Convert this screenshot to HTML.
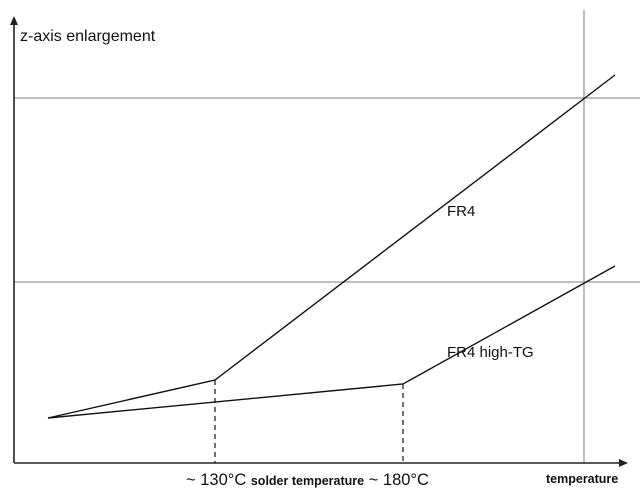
<!DOCTYPE html><html><head><style>body{margin:0;background:#fff}svg{display:block;font-family:"Liberation Sans",sans-serif}</style></head><body>
<svg width="640" height="499" viewBox="0 0 640 499">
<line x1="14" y1="98" x2="640" y2="98" stroke="#999" stroke-width="1.3"/>
<line x1="14" y1="282" x2="640" y2="282" stroke="#999" stroke-width="1.3"/>
<line x1="584" y1="10" x2="584" y2="463" stroke="#999" stroke-width="1.3"/>
<line x1="14" y1="463" x2="14" y2="24" stroke="#222" stroke-width="1.6"/>
<polygon points="14,16 10,25 18,25" fill="#222"/>
<line x1="14" y1="463" x2="620" y2="463" stroke="#222" stroke-width="1.6"/>
<polygon points="628,463 619,459 619,467" fill="#222"/>
<line x1="215" y1="380" x2="215" y2="463" stroke="#222" stroke-width="1.3" stroke-dasharray="5,4"/>
<line x1="403" y1="384" x2="403" y2="463" stroke="#222" stroke-width="1.3" stroke-dasharray="5,4"/>
<polyline points="48,418 215,380 615,75" fill="none" stroke="#111" stroke-width="1.4"/>
<polyline points="48,418 403,384 615,266" fill="none" stroke="#111" stroke-width="1.4"/>
<text x="20" y="41" font-size="16" fill="#111">z-axis enlargement</text>
<text x="447" y="216" font-size="15" fill="#111">FR4</text>
<text x="447" y="357" font-size="15" fill="#111">FR4 high-TG</text>
<text x="186" y="485" font-size="16.5" fill="#111">~ 130°C <tspan font-size="12.5" font-weight="bold">solder temperature</tspan> ~ 180°C</text>
<text x="546" y="483" font-size="12.5" font-weight="bold" fill="#111">temperature</text>
</svg></body></html>
